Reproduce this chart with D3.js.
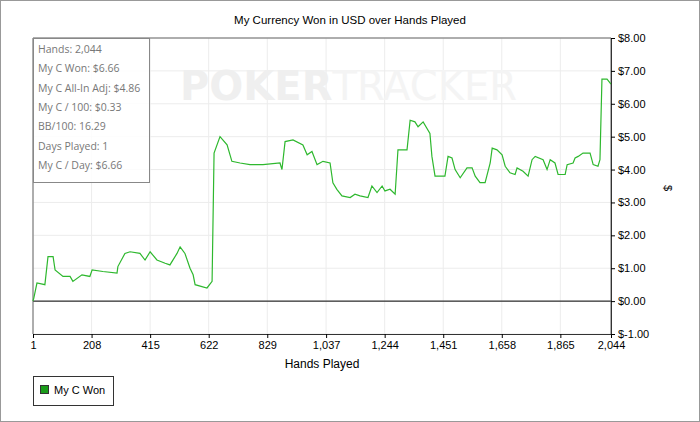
<!DOCTYPE html><html><head><meta charset="utf-8"><script src="https://cdn.jsdelivr.net/npm/d3@7"></script>
<style>body{margin:0;background:#fff}</style></head><body><svg id="c" width="700" height="422"></svg>
<script>
const hands=[1,4,15,43,54,72,79,107,132,142,174,202,210,248,298,301,326,344,379,397,415,439,468,485,510,521,538,556,567,574,616,634,641,662,687,704,733,768,814,874,881,892,920,955,970,987,1005,1026,1051,1061,1075,1093,1122,1139,1157,1185,1199,1217,1235,1245,1263,1281,1291,1323,1334,1351,1362,1380,1404,1411,1422,1457,1468,1482,1493,1511,1535,1553,1564,1581,1599,1617,1624,1641,1659,1670,1687,1705,1712,1733,1751,1765,1776,1804,1818,1829,1846,1857,1882,1889,1910,1917,1928,1945,1970,1981,1998,2005,2012,2030,2044];
const won=[0,0.1,0.55,0.5,1.35,1.35,0.95,0.75,0.75,0.6,0.8,0.75,0.95,0.9,0.85,1.05,1.45,1.5,1.45,1.25,1.5,1.25,1.15,1.1,1.45,1.65,1.45,1.0,0.8,0.5,0.4,0.6,4.5,5.0,4.75,4.25,4.2,4.15,4.15,4.2,4.0,4.85,4.9,4.75,4.45,4.55,4.15,4.25,4.2,3.6,3.4,3.2,3.15,3.25,3.2,3.15,3.5,3.3,3.5,3.35,3.4,3.25,4.6,4.6,5.5,5.45,5.3,5.45,5.1,4.4,3.8,3.8,4.4,4.35,4.0,3.75,4.05,4.05,3.8,3.6,3.6,4.2,4.65,4.6,4.45,4.1,3.9,3.85,4.05,3.95,3.8,4.3,4.4,4.3,4.0,4.3,4.2,3.85,3.85,4.15,4.2,4.35,4.4,4.5,4.5,4.15,4.1,4.3,6.75,6.75,6.6,6.66];
const xTicks=[1,208,415,622,829,1037,1244,1451,1658,1865,2044];
const yTicks=[-1,0,1,2,3,4,5,6,7,8];
const stats=["Hands: 2,044","My C Won: $6.66","My C All-In Adj: $4.86","My C / 100: $0.33","BB/100: 16.29","Days Played: 1","My C / Day: $6.66"];
const svg=d3.select("#c"),F="Liberation Sans, Arial, sans-serif";
const L=33,R=611,T=38,B=334;
svg.append("rect").attr("x",0.5).attr("y",0.5).attr("width",699).attr("height",421).attr("fill","#fff").attr("stroke","#999");
const x=d3.scaleLinear().domain([1,2044]).range([L,R]);
const y=d3.scaleLinear().domain([-1,8]).range([B,T]);
svg.append("text").attr("x",350).attr("y",24).attr("text-anchor","middle").attr("font-family",F).attr("font-size",11.5).text("My Currency Won in USD over Hands Played");
const g=svg.append("g");
g.selectAll(".vg").data(xTicks).join("line").attr("x1",d=>x(d)).attr("x2",d=>x(d)).attr("y1",T).attr("y2",B).attr("stroke","#ececec");
g.selectAll(".hg").data(yTicks).join("line").attr("x1",L).attr("x2",R).attr("y1",d=>y(d)).attr("y2",d=>y(d)).attr("stroke","#ececec");
const wm=svg.append("text").attr("x",180).attr("y",100).attr("font-family","DejaVu Sans, sans-serif").attr("font-size",40).attr("fill","#efefef");
wm.append("tspan").attr("font-weight","bold").text("POKER");
wm.append("tspan").attr("fill","#f4f4f4").text("TRACKER");
svg.append("line").attr("x1",L).attr("x2",R).attr("y1",y(0)).attr("y2",y(0)).attr("stroke","#000");
svg.append("path").attr("d",`M${L},${B}V${T}H${R}V${B}`).attr("fill","none").attr("stroke","#666");
svg.append("path").datum(hands.map((h,i)=>[h,won[i]])).attr("fill","none").attr("stroke","#2eb82e").attr("stroke-width",1.2)
 .attr("d",d3.line().x(d=>x(d[0])).y(d=>y(d[1])));
const ax=svg.append("g").attr("transform",`translate(0,${B})`).call(d3.axisBottom(x).tickValues(xTicks).tickSize(4).tickFormat(d3.format(",")));
ax.select(".domain").attr("stroke","#333");
const ay=svg.append("g").attr("transform",`translate(${R},0)`).call(d3.axisRight(y).tickValues(yTicks).tickSize(4).tickFormat(d=>d<0?"$-"+(-d).toFixed(2):"$"+d.toFixed(2)));
ay.select(".domain").attr("stroke","#333");
svg.selectAll(".tick text").attr("font-family",F).attr("font-size",11).attr("fill","#000");
svg.append("text").attr("x",322).attr("y",368).attr("text-anchor","middle").attr("font-family",F).attr("font-size",12).text("Hands Played");
svg.append("text").attr("transform","translate(664,188) rotate(90)").attr("text-anchor","middle").attr("font-family",F).attr("font-size",11).text("$");
svg.append("rect").attr("x",L+0.5).attr("y",T+0.5).attr("width",116).attr("height",144).attr("fill","#fff").attr("fill-opacity",0.85).attr("stroke","#888");
svg.selectAll(".st").data(stats).join("text").attr("x",L+5).attr("y",(d,i)=>T+15+i*19.3).attr("font-family","Open Sans, sans-serif").attr("font-size",10.5).attr("fill","#777").text(d=>d);
svg.append("rect").attr("x",33.5).attr("y",376.5).attr("width",80).attr("height",29).attr("fill","#fff").attr("stroke","#333");
svg.append("rect").attr("x",40.5).attr("y",385.5).attr("width",8).attr("height",8).attr("fill","#1a9c1a").attr("stroke","#333");
svg.append("text").attr("x",54).attr("y",394).attr("font-family",F).attr("font-size",11).text("My C Won");
</script></body></html>
